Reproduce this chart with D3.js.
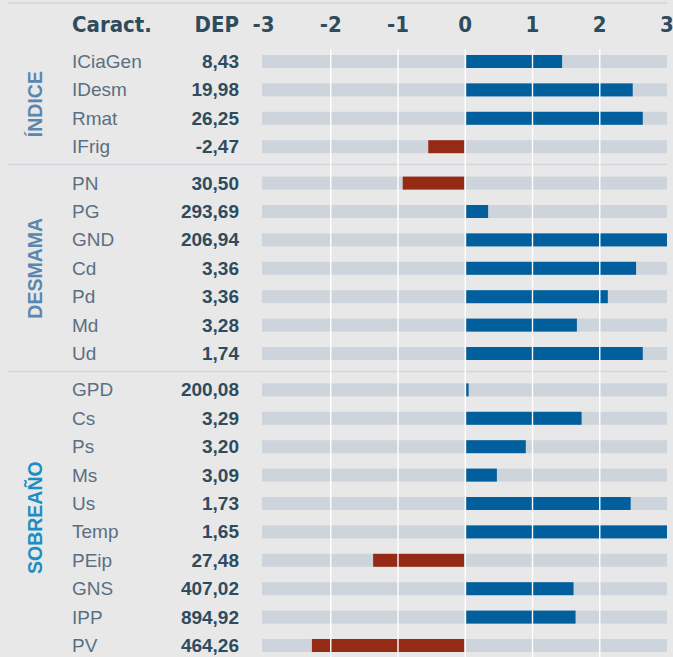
<!DOCTYPE html>
<html>
<head>
<meta charset="utf-8">
<script src="https://cdn.jsdelivr.net/npm/d3@7"></script>
<style>
  body { margin: 0; background: #e8e8e8; }
  svg { display: block; }
</style>
</head>
<body>
<svg width="673" height="657"></svg>
<script>
// data
const groups = ["ÍNDICE", "DESMAMA", "SOBREAÑO"];
const groupColors = ["#5a87b0", "#5a87b0", "#1a8fc3"];
const caract = ["ICiaGen", "IDesm", "Rmat", "IFrig",
  "PN", "PG", "GND", "Cd", "Pd", "Md", "Ud",
  "GPD", "Cs", "Ps", "Ms", "Us", "Temp", "PEip", "GNS", "IPP", "PV"];
const groupOf = [0, 0, 0, 0, 1, 1, 1, 1, 1, 1, 1, 2, 2, 2, 2, 2, 2, 2, 2, 2, 2];
const dep = [8.43, 19.98, 26.25, -2.47,
  30.50, 293.69, 206.94, 3.36, 3.36, 3.28, 1.74,
  200.08, 3.29, 3.20, 3.09, 1.73, 1.65, 27.48, 407.02, 894.92, 464.26];
const score = [1.44, 2.49, 2.64, -0.55,
  -0.93, 0.34, 3.0, 2.54, 2.12, 1.66, 2.64,
  0.05, 1.73, 0.90, 0.47, 2.46, 3.0, -1.37, 1.61, 1.64, -2.28];
const ticks = [-3, -2, -1, 0, 1, 2, 3];

const svg = d3.select("svg");
const headFont = "'Liberation Sans Narrow', 'DejaVu Sans Condensed', 'Liberation Sans', sans-serif";
const bodyFont = "'Liberation Sans', Arial, sans-serif";
const dark = "#2f4b5e";

const x = d3.scaleLinear().domain([-3, 3]).range([263.5, 667]);
const rowStep = 28.4, groupGap = 8, barH = 13, top0 = 55;
const rowY = i => top0 + i * rowStep + groupOf[i] * groupGap;
const fmt = v => v.toFixed(2).replace(".", ",");

// separators
const sepY = [3, rowY(4) - 12, rowY(11) - 12];
svg.selectAll(".sep").data(sepY).enter().append("line")
  .attr("x1", 8).attr("x2", 667)
  .attr("y1", d => d).attr("y2", d => d)
  .attr("stroke", "#cdd5de").attr("stroke-width", 1.5);

// header
svg.append("text").attr("x", 72).attr("y", 32).text("Caract.")
  .attr("font-family", headFont).attr("font-weight", "bold").attr("font-size", 22).attr("fill", dark);
svg.append("text").attr("x", 239).attr("y", 32).attr("text-anchor", "end").text("DEP")
  .attr("font-family", headFont).attr("font-weight", "bold").attr("font-size", 22).attr("fill", dark);
svg.selectAll(".tick").data(ticks).enter().append("text")
  .attr("x", d => x(d)).attr("y", 32).attr("text-anchor", "middle")
  .text(d => d)
  .attr("font-family", headFont).attr("font-weight", "bold").attr("font-size", 22).attr("fill", dark);

// background tracks
svg.selectAll(".track").data(caract).enter().append("rect")
  .attr("x", x(-3) - 1.5).attr("width", x(3) - x(-3) + 1.5)
  .attr("y", (d, i) => rowY(i)).attr("height", barH)
  .attr("fill", "#cdd4db");

// bars
svg.selectAll(".bar").data(score).enter().append("rect")
  .attr("x", d => d >= 0 ? x(0) + 1 : x(d))
  .attr("width", d => Math.max(0, Math.abs(x(d) - x(0)) - 1))
  .attr("y", (d, i) => rowY(i)).attr("height", barH)
  .attr("fill", d => d >= 0 ? "#005f9c" : "#952b14");

// white gridlines on top
svg.selectAll(".grid").data([-2, -1, 0, 1, 2]).enter().append("line")
  .attr("x1", d => x(d)).attr("x2", d => x(d))
  .attr("y1", 49).attr("y2", 657)
  .attr("stroke", "#ffffff").attr("stroke-width", 1.4);

// row labels and values
svg.selectAll(".lab").data(caract).enter().append("text")
  .attr("x", 72).attr("y", (d, i) => rowY(i) + barH)
  .text(d => d)
  .attr("font-family", bodyFont).attr("font-size", 19).attr("fill", "#5b6f82");
svg.selectAll(".val").data(dep).enter().append("text")
  .attr("x", 239).attr("y", (d, i) => rowY(i) + barH).attr("text-anchor", "end")
  .text(fmt)
  .attr("font-family", bodyFont).attr("font-weight", "bold").attr("font-size", 19).attr("fill", dark);

// vertical group labels
groups.forEach((g, gi) => {
  const idx = d3.range(caract.length).filter(i => groupOf[i] === gi);
  const cy = (rowY(idx[0]) + rowY(idx[idx.length - 1]) + barH) / 2;
  svg.append("text")
    .attr("transform", `translate(41.5,${cy}) rotate(-90)`)
    .attr("text-anchor", "middle")
    .text(g)
    .attr("font-family", bodyFont).attr("font-weight", "bold").attr("font-size", 19.5)
    .attr("fill", groupColors[gi]);
});
</script>
</body>
</html>
